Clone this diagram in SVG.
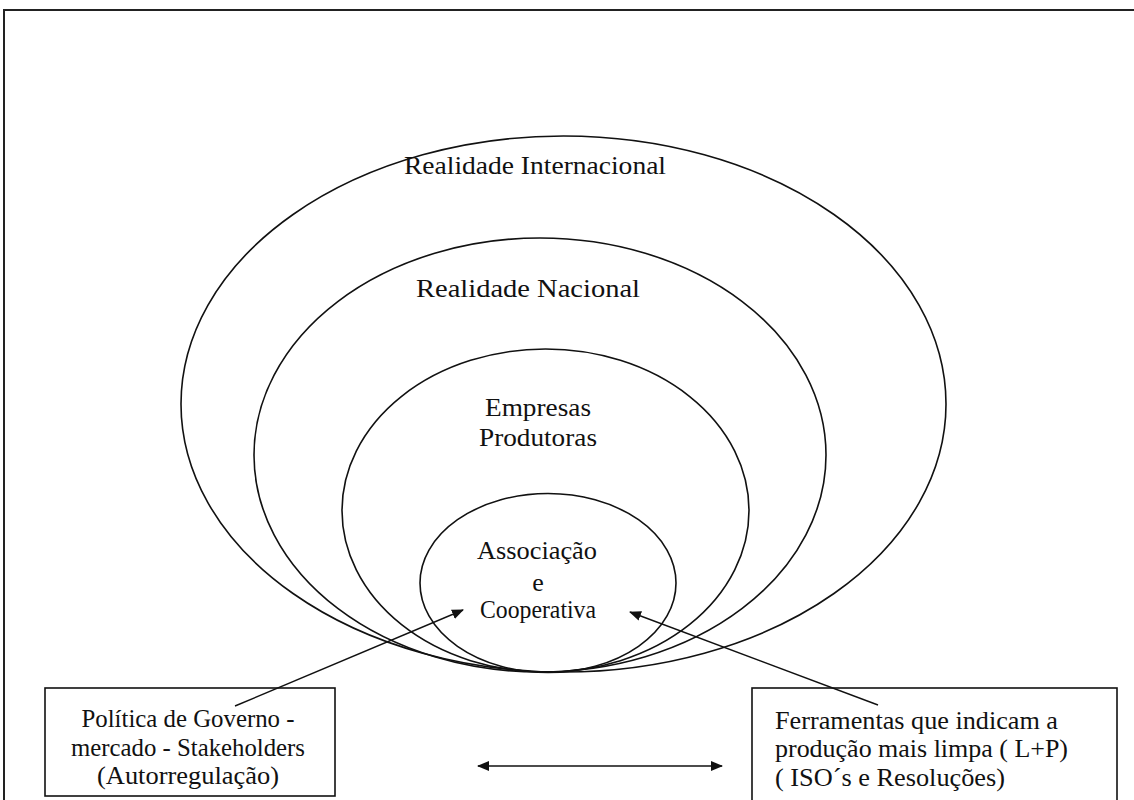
<svg xmlns="http://www.w3.org/2000/svg" width="1134" height="800" viewBox="0 0 1134 800">
<style>
.t{font-family:"Liberation Serif","Times New Roman",serif;font-size:26px;fill:#111}
.s{font-size:25px}
.c{text-anchor:middle}
.e{fill:none;stroke:#111;stroke-width:1.6}
.b{fill:#fff;stroke:#111;stroke-width:1.6}
.ln{fill:none;stroke:#111;stroke-width:1.4}
</style>
<defs>
<marker id="ah" viewBox="0 0 12 10" refX="11" refY="5" markerWidth="12" markerHeight="10" markerUnits="userSpaceOnUse" orient="auto-start-reverse">
<path d="M0,0 L12,5 L0,10 z" fill="#111"/>
</marker>
</defs>
<rect width="1134" height="800" fill="#fff"/>
<rect x="4" y="10" width="1150" height="820" fill="none" stroke="#222" stroke-width="2"/>
<g id="internacional">
<ellipse class="e" cx="563.5" cy="404" rx="382.5" ry="268"/>
<text class="t c" x="535" y="174" textLength="262" lengthAdjust="spacingAndGlyphs">Realidade Internacional</text>
</g>
<g id="nacional">
<ellipse class="e" cx="540" cy="455" rx="286" ry="217"/>
<text class="t c" x="528" y="297" textLength="224" lengthAdjust="spacingAndGlyphs">Realidade Nacional</text>
</g>
<g id="empresas">
<ellipse class="e" cx="545.5" cy="510.5" rx="203.5" ry="161.5"/>
<text class="t c" x="538" y="416" textLength="106" lengthAdjust="spacingAndGlyphs">Empresas</text>
<text class="t c" x="538" y="446" textLength="118" lengthAdjust="spacingAndGlyphs">Produtoras</text>
</g>
<g id="associacao">
<ellipse class="e" cx="548" cy="583" rx="128" ry="89.5"/>
<text class="t c" x="537" y="559" textLength="120" lengthAdjust="spacingAndGlyphs">Associação</text>
<text class="t c" x="538" y="591">e</text>
<text class="t s c" x="538" y="618" textLength="116" lengthAdjust="spacingAndGlyphs">Cooperativa</text>
</g>
<g id="politica">
<rect class="b" x="45" y="688" width="290" height="108"/>
<text class="t s c" x="188" y="727" textLength="213" lengthAdjust="spacingAndGlyphs">Política de Governo -</text>
<text class="t s c" x="188" y="756" textLength="234" lengthAdjust="spacingAndGlyphs">mercado - Stakeholders</text>
<text class="t s c" x="188" y="784" textLength="182" lengthAdjust="spacingAndGlyphs">(Autorregulação)</text>
</g>
<g id="ferramentas">
<rect class="b" x="752" y="688" width="365" height="130"/>
<text class="t s" x="775" y="729" textLength="283" lengthAdjust="spacingAndGlyphs">Ferramentas que indicam a</text>
<text class="t s" x="775" y="757" textLength="293" lengthAdjust="spacingAndGlyphs">produção mais limpa ( L+P)</text>
<text class="t s" x="775" y="786" textLength="230" lengthAdjust="spacingAndGlyphs">( ISO´s e Resoluções)</text>
</g>
<g id="connectors">
<line class="ln" x1="235" y1="706" x2="463" y2="610" marker-end="url(#ah)"/>
<line class="ln" x1="878" y1="705" x2="630" y2="612" marker-end="url(#ah)"/>
<line class="ln" x1="478" y1="766" x2="722" y2="766" marker-start="url(#ah)" marker-end="url(#ah)"/>
</g>
</svg>
